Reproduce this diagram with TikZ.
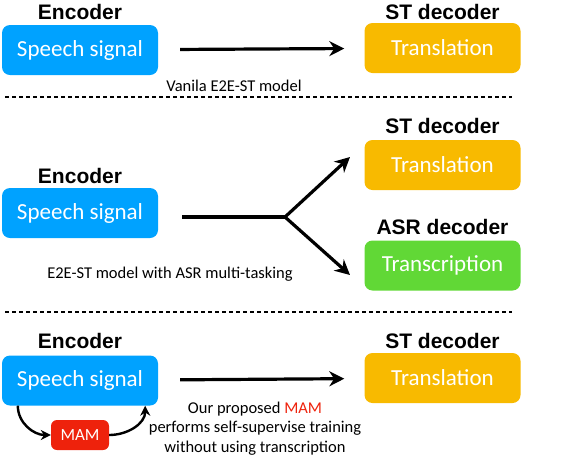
\documentclass[tikz,border=0pt]{standalone}
\usepackage{fontspec}
\setmainfont{Carlito}
\newfontfamily\headfont{Liberation Sans}
\usepackage{xcolor}
\usetikzlibrary{positioning,arrows.meta}

\definecolor{encblue}{RGB}{0,162,255}
\definecolor{decorange}{RGB}{248,186,0}
\definecolor{asrgreen}{RGB}{97,216,54}
\definecolor{mamred}{RGB}{238,34,12}

\begin{document}
\begin{tikzpicture}[x=1pt,y=-1pt,
    box/.style={rounded corners=8pt, minimum width=156pt, minimum height=50pt,
        inner sep=0pt, text=white, font=\fontsize{23}{27}\selectfont},
    head/.style={anchor=base, font=\headfont\bfseries\fontsize{21}{25}\selectfont},
    caption/.style={anchor=base, align=center, font=\fontsize{16.5}{19.5}\selectfont},
    sep/.style={line width=1.5pt, dash pattern=on 4pt off 3pt},
    flow/.style={line width=3.2pt, -{Stealth[length=15pt,width=15pt]}},
    loopback/.style={line width=2.4pt, -{Stealth[length=10pt,width=10pt]}}]
    \useasboundingbox (0,0) rectangle (570,456);

    % vanilla model
    \node[box, fill=encblue] (sig1) at (80,50) {Speech signal};
    \node[box, fill=decorange] (tr1) at (442.5,48) {Translation};
    \node[head] (enc1) at (80,19) {Encoder};
    \node[head] (dec1) at (442.5,19) {ST decoder};
    \draw[flow, shorten <=22pt, shorten >=20pt] (sig1) -- (tr1);
    \node[caption] (cap1) at (234,91) {Vanila E2E-ST model};

    \draw[sep] (5,97) -- (512,97);

    % multi-task model
    \node[box, fill=encblue] (sig2) at (80,213) {Speech signal};
    \node[box, fill=decorange] (tr2) at (442.5,165) {Translation};
    \node[box, fill=asrgreen] (asr) at (442.5,265.5) {Transcription};
    \node[head] (enc2) at (80,183) {Encoder};
    \node[head] (dec2) at (442.5,133) {ST decoder};
    \node[head] (dec3) at (442.5,234) {ASR decoder};
    \coordinate (fork) at (285,217);
    \coordinate (tipst) at (350,157);
    \coordinate (tipasr) at (350,275);
    \draw[line width=3.2pt, shorten <=24pt] (sig2.east |- fork) -- (fork);
    \draw[flow] (fork) -- (tipst);
    \draw[flow] (fork) -- (tipasr);
    \node[caption] (cap2) at (170,278) {E2E-ST model with ASR multi-tasking};

    \draw[sep] (5,312) -- (512,312);

    % proposed model
    \node[box, fill=encblue] (sig3) at (80,380.5) {Speech signal};
    \node[box, fill=decorange] (tr3) at (442.5,378) {Translation};
    \node[head] (enc3) at (80,348) {Encoder};
    \node[head] (dec4) at (442.5,348) {ST decoder};
    \draw[flow, shorten <=22pt, shorten >=20pt] (sig3) -- (tr3);
    \node[box, fill=mamred, minimum width=58pt, minimum height=30pt,
        rounded corners=6pt, font=\fontsize{17}{20}\selectfont] (mam) at (80,435) {MAM};
    \draw[loopback] ([xshift=16pt]sig3.south west) to[out=-90, in=180] (mam.west);
    \draw[loopback] (mam.east) to[out=0, in=-90] ([xshift=-13pt]sig3.south east);
    \node[caption] (cap3) at (255,452) {Our proposed \textcolor{mamred}{MAM}\\
        performs self-supervise training\\without using transcription};
\end{tikzpicture}
\end{document}
